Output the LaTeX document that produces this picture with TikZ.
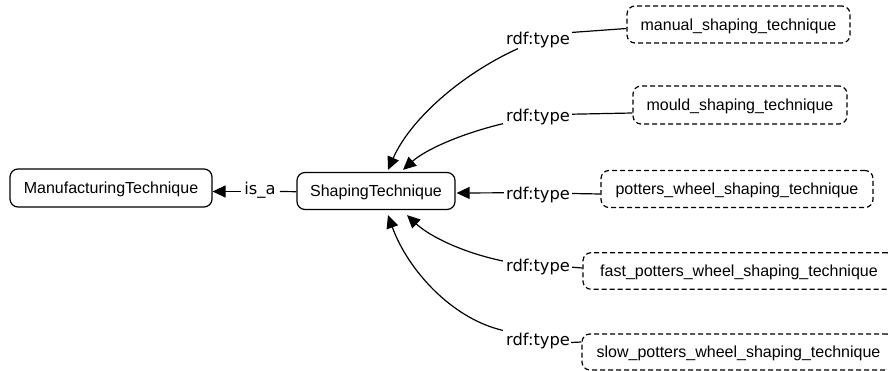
\documentclass[tikz,border=0pt]{standalone}
\usepackage{fontspec}
\setmainfont{Liberation Sans}
\newfontfamily\lblfont{DejaVu Sans}
\usetikzlibrary{arrows.meta}
\begin{document}
\begin{tikzpicture}[x=1pt,y=-1pt,
  cls/.style={draw, rounded corners=8pt, line width=1.2pt, font=\fontsize{16}{19}\selectfont, inner sep=0pt, text height=12pt, text depth=0.5pt},
  ind/.style={cls, dash pattern=on 5pt off 3pt},
  lbl/.style={font=\lblfont\fontsize{16.3}{19}\selectfont, inner sep=0pt},
  con/.style={line width=1.2pt},
  arr/.style={con, -{Triangle[length=13pt,width=12pt]}}]
\useasboundingbox (0,0) rectangle (888,371);
% class nodes
\node[cls, minimum width=202pt, minimum height=38pt] (mt) at (111,188) {ManufacturingTechnique};
\node[cls, minimum width=158pt, minimum height=37pt] (st) at (376,191) {ShapingTechnique};
% instance nodes
\node[ind, minimum width=223pt, minimum height=37pt] (m1) at (738.5,24.5) {manual\_shaping\_technique};
\node[ind, minimum width=214pt, minimum height=38pt] (m2) at (740,105) {mould\_shaping\_technique};
\node[ind, minimum width=272pt, minimum height=37pt] (m3) at (737,189) {potters\_wheel\_shaping\_technique};
\node[ind, minimum width=312pt, minimum height=36.5pt] (m4) at (739,271) {fast\_potters\_wheel\_shaping\_technique};
\node[ind, minimum width=313pt, minimum height=36pt] (m5) at (738.5,352) {slow\_potters\_wheel\_shaping\_technique};
% edge labels
\node[lbl, anchor=base] (l1) at (538,45) {rdf:type};
\node[lbl, anchor=base] (l2) at (538,121.7) {rdf:type};
\node[lbl, anchor=base] (l3) at (538,200) {rdf:type};
\node[lbl, anchor=base] (l4) at (538,271.7) {rdf:type};
\node[lbl, anchor=base] (l5) at (538,345) {rdf:type};
\node[lbl, anchor=base] (isa) at (260,195) {is\_a};
% is_a
\draw[con] ([shift={(0,0.7)}]st.west) -- ([shift={(4,-3.5)}]isa.base east);
\draw[arr] ([shift={(-3,-3.5)}]isa.base west) -- ([shift={(0,3.5)}]mt.east);
% rdf:type to class
\draw[arr] ([shift={(12,0)}]l1.south west) .. controls (460,75) and (410,120) .. ([shift={(12,-2)}]st.north);
\draw[arr] ([shift={(-3,2)}]l2.base west) .. controls (460,134) and (425,150) .. ([shift={(27,-2)}]st.north);
\draw[arr] ([shift={(-2,-2.7)}]l3.west) -- ([shift={(1,2)}]st.east);
\draw[arr] ([shift={(-3,-10.7)}]l4.base west) .. controls (460,252) and (428,235) .. ([shift={(31,5)}]st.south);
\draw[arr] ([shift={(-3,-2)}]l5.north west) .. controls (450,318) and (407,268) .. ([shift={(12,5)}]st.south);
% instance to label
\draw[con] ([shift={(2,0)}]l1.north east) -- ([shift={(0,4)}]m1.west);
\draw[con] ([shift={(2,-3)}]l2.east) -- ([shift={(0,8)}]m2.west);
\draw[con] ([shift={(2,-2)}]l3.east) -- ([shift={(0,5)}]m3.west);
\draw[con] ([shift={(2,0)}]l4.east) -- ([shift={(0,-3)}]m4.west);
\draw[con] ([shift={(1,2)}]l5.east) -- ([shift={(0,-10)}]m5.west);
\end{tikzpicture}
\end{document}
